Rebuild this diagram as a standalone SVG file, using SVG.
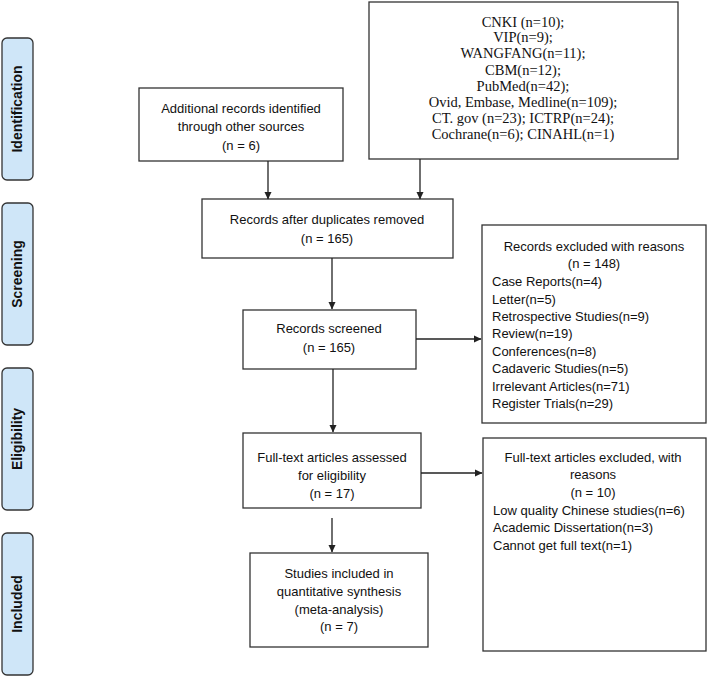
<svg xmlns="http://www.w3.org/2000/svg" width="709" height="678" viewBox="0 0 709 678">
<defs>
<marker id="ah" markerWidth="8" markerHeight="8" refX="7" refY="4" orient="auto" markerUnits="userSpaceOnUse">
<path d="M0,0.5 L7.5,4 L0,7.5 Z" fill="#222"/>
</marker>
<style>
.phase{fill:#cfe6f8;stroke:#333;stroke-width:1.3}
.plabel{font-family:"Liberation Sans",Arial,sans-serif;font-size:14px;font-weight:bold;fill:#111;text-anchor:middle}
.box{fill:#fff;stroke:#333;stroke-width:1.3}
.t{font-family:"Liberation Sans",Arial,sans-serif;font-size:13px;fill:#111}
.c{text-anchor:middle}
.serif{font-family:"Liberation Serif","Times New Roman",serif;font-size:14.5px;fill:#111;text-anchor:middle}
.conn{stroke:#222;stroke-width:1.3;fill:none;marker-end:url(#ah)}
</style>
</defs>
<rect width="709" height="678" fill="#fff"/>

<g id="phase-identification">
<rect class="phase" x="2" y="38" width="31" height="142" rx="5"/>
<text class="plabel" transform="translate(22,109) rotate(-90)">Identification</text>
</g>
<g id="phase-screening">
<rect class="phase" x="2" y="203" width="31" height="142" rx="5"/>
<text class="plabel" transform="translate(22,274) rotate(-90)">Screening</text>
</g>
<g id="phase-eligibility">
<rect class="phase" x="2" y="368" width="31" height="142" rx="5"/>
<text class="plabel" transform="translate(22,439) rotate(-90)">Eligibility</text>
</g>
<g id="phase-included">
<rect class="phase" x="2" y="533" width="31" height="142" rx="5"/>
<text class="plabel" transform="translate(22,604) rotate(-90)">Included</text>
</g>

<g id="additional">
<rect class="box" x="139" y="88" width="204" height="73"/>
<text class="t c" x="241" y="113">Additional records identified</text>
<text class="t c" x="241" y="131">through other sources</text>
<text class="t c" x="241" y="150">(n = 6)</text>
</g>

<g id="databases">
<rect class="box" x="369" y="2" width="309" height="157"/>
<text class="serif" x="523" y="27">CNKI (n=10);</text>
<text class="serif" x="523" y="42">VIP(n=9);</text>
<text class="serif" x="523" y="58">WANGFANG(n=11);</text>
<text class="serif" x="523" y="75">CBM(n=12);</text>
<text class="serif" x="523" y="91">PubMed(n=42);</text>
<text class="serif" x="523" y="107">Ovid, Embase, Medline(n=109);</text>
<text class="serif" x="523" y="123">CT. gov (n=23); ICTRP(n=24);</text>
<text class="serif" x="523" y="139">Cochrane(n=6); CINAHL(n=1)</text>
</g>

<g id="duplicates">
<rect class="box" x="202" y="199" width="251" height="59"/>
<text class="t c" x="327" y="224">Records after duplicates removed</text>
<text class="t c" x="327" y="243">(n = 165)</text>
</g>

<g id="screened">
<rect class="box" x="243" y="310" width="173" height="59"/>
<text class="t c" x="329" y="333">Records screened</text>
<text class="t c" x="329" y="352">(n = 165)</text>
</g>

<g id="excluded">
<rect class="box" x="482" y="225" width="224" height="198"/>
<text class="t c" x="594" y="251">Records excluded with reasons</text>
<text class="t c" x="594" y="268">(n = 148)</text>
<text class="t" x="492" y="286">Case Reports(n=4)</text>
<text class="t" x="492" y="304">Letter(n=5)</text>
<text class="t" x="492" y="321">Retrospective Studies(n=9)</text>
<text class="t" x="492" y="338">Review(n=19)</text>
<text class="t" x="492" y="356">Conferences(n=8)</text>
<text class="t" x="492" y="373">Cadaveric Studies(n=5)</text>
<text class="t" x="492" y="391">Irrelevant Articles(n=71)</text>
<text class="t" x="492" y="408">Register Trials(n=29)</text>
</g>

<g id="fulltext">
<rect class="box" x="243" y="433" width="178" height="75"/>
<text class="t c" x="332" y="462">Full-text articles assessed</text>
<text class="t c" x="332" y="480">for eligibility</text>
<text class="t c" x="332" y="498">(n = 17)</text>
</g>

<g id="fulltext-excluded">
<rect class="box" x="483" y="438" width="223" height="213"/>
<text class="t c" x="593" y="462">Full-text articles excluded, with</text>
<text class="t c" x="593" y="479">reasons</text>
<text class="t c" x="593" y="497">(n = 10)</text>
<text class="t" x="493" y="515">Low quality Chinese studies(n=6)</text>
<text class="t" x="493" y="532">Academic Dissertation(n=3)</text>
<text class="t" x="493" y="550">Cannot get full text(n=1)</text>
</g>

<g id="included">
<rect class="box" x="250" y="553" width="178" height="94"/>
<text class="t c" x="339" y="578">Studies included in</text>
<text class="t c" x="339" y="596">quantitative synthesis</text>
<text class="t c" x="339" y="614">(meta-analysis)</text>
<text class="t c" x="339" y="631">(n = 7)</text>
</g>

<g id="connectors">
<line class="conn" x1="268" y1="161" x2="268" y2="199"/>
<line class="conn" x1="420" y1="159" x2="420" y2="199"/>
<line class="conn" x1="332" y1="258" x2="332" y2="309"/>
<line class="conn" x1="416" y1="339" x2="481" y2="339"/>
<line class="conn" x1="333" y1="369" x2="333" y2="432"/>
<line class="conn" x1="421" y1="473" x2="482" y2="473"/>
<line class="conn" x1="332" y1="518" x2="332" y2="552"/>
</g>
</svg>
